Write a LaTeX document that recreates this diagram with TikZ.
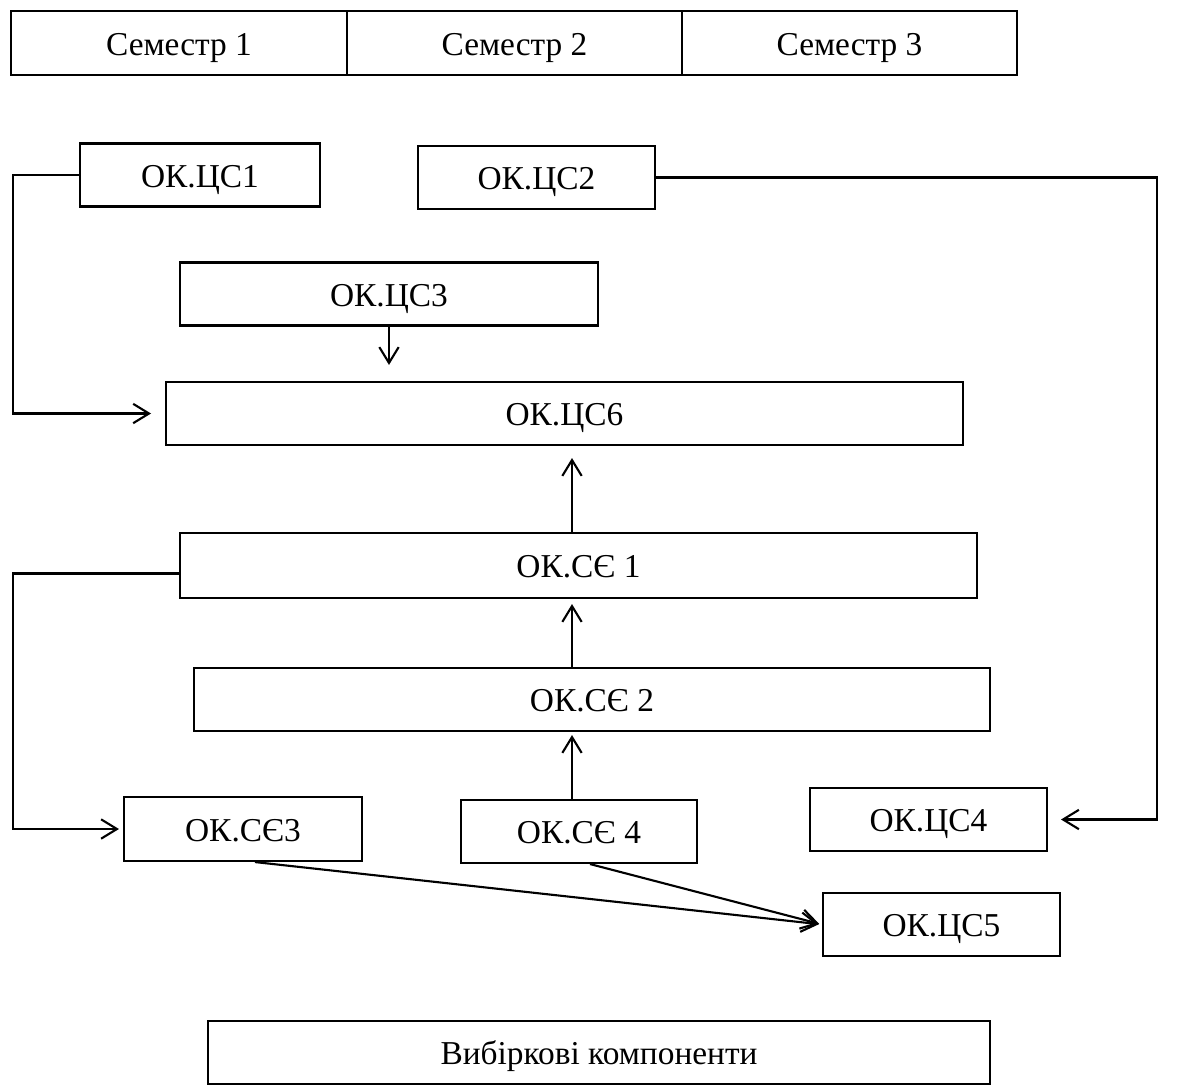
\documentclass[tikz,border=0pt]{standalone}
\usepackage{fontspec}
\setmainfont{Liberation Serif}
\usepackage{tikz}
\usetikzlibrary{arrows.meta}

\begin{document}
\begin{tikzpicture}[x=0.02cm, y=-0.02cm,
    box/.style={draw, line width=1.2pt, minimum height=1.26cm, inner sep=2pt,
                text height=15pt, text depth=1pt,
                font=\fontsize{19}{23}\selectfont},
    conn/.style={line width=1.2pt, -{Straight Barb[length=9pt,width=11pt]}}]
    \useasboundingbox (0,0) rectangle (1180,1086);

    % semesters
    \node[box, minimum width=6.72cm, minimum height=1.28cm] (sem1) at (179,43) {Семестр 1};
    \node[box, minimum width=6.70cm, minimum height=1.28cm] (sem2) at (514.5,43) {Семестр 2};
    \node[box, minimum width=6.70cm, minimum height=1.28cm] (sem3) at (849.5,43) {Семестр 3};

    % components
    \node[box, minimum width=4.80cm] (cs1) at (200,175) {ОК.ЦС1};
    \node[box, minimum width=4.74cm] (cs2) at (536.5,177.5) {ОК.ЦС2};
    \node[box, minimum width=8.36cm] (cs3) at (389,294) {ОК.ЦС3};
    \node[box, minimum width=15.94cm] (cs6) at (564.5,413.5) {ОК.ЦС6};
    \node[box, minimum width=15.94cm, minimum height=1.3cm] (se1) at (578.5,565.5) {ОК.СЄ 1};
    \node[box, minimum width=15.92cm] (se2) at (592,699.5) {ОК.СЄ 2};
    \node[box, minimum width=4.76cm, minimum height=1.28cm] (se3) at (243,829) {ОК.СЄ3};
    \node[box, minimum width=4.72cm] (se4) at (579,831.5) {ОК.СЄ 4};
    \node[box, minimum width=4.74cm] (cs4) at (928.5,819.5) {ОК.ЦС4};
    \node[box, minimum width=4.74cm] (cs5) at (941.5,924.5) {ОК.ЦС5};
    \node[box, minimum width=15.64cm] (vyb) at (599,1052.5) {Вибіркові компоненти};

    % routing points
    \coordinate (leftA) at (13,175);
    \coordinate (rightA) at (1157,177.5);
    \coordinate (mid) at (572,0);

    \draw[conn, shorten >=0.28cm] (cs1.west) -- (leftA) |- (cs6.west);
    \draw[conn, shorten >=0.32cm] (cs3.south) -- (cs3.south |- cs6.north);
    \draw[conn, shorten >=0.24cm] (mid |- se1.north) -- (mid |- cs6.south);
    \draw[conn, shorten >=0.1cm] (mid |- se2.north) -- (mid |- se1.south);
    \draw[conn, shorten >=0.06cm] (mid |- se4.north) -- (mid |- se2.south);
    \draw[conn, shorten >=0.08cm] ([yshift=-0.16cm]se1.west) -- ([yshift=-0.16cm]se1.west -| leftA) |- (se3.west);
    \draw[conn, shorten >=0.26cm] (cs2.east) -- (rightA) |- (cs4.east);
    \draw[conn, shorten >=0.06cm] ([xshift=0.24cm]se3.south) -- (cs5.west);
    \draw[conn, shorten >=0.06cm] ([xshift=0.22cm]se4.south) -- (cs5.west);
\end{tikzpicture}
\end{document}
